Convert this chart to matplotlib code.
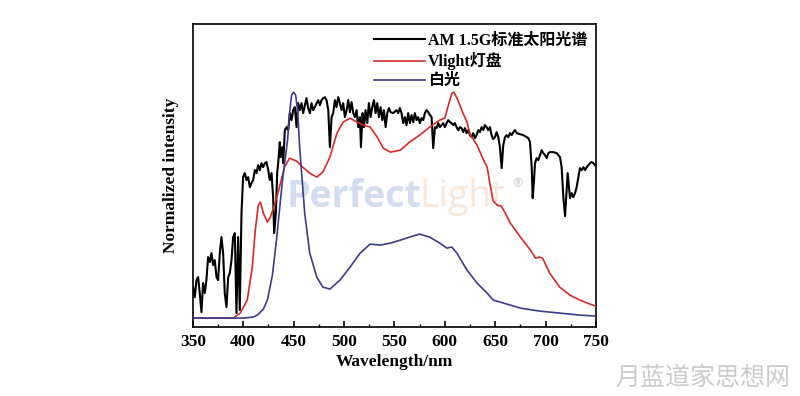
import matplotlib
matplotlib.use("Agg")
import matplotlib.pyplot as plt
from matplotlib.ticker import MultipleLocator

# ---- data (arbitrary units) ----
am_wl = [350.3, 352.0, 353.6, 355.3, 356.9, 358.6, 360.2, 361.9, 363.5, 365.2, 366.9, 368.5, 370.2, 371.8,
         373.5, 375.1, 376.8, 378.4, 380.1, 381.7, 383.4, 385.1, 386.7, 388.4, 390.0, 391.7, 393.3, 395.0,
         396.6, 398.3, 399.9, 401.6, 403.3, 404.9, 406.6, 408.2, 409.9, 411.5, 413.2, 414.8, 416.5, 418.1,
         419.8, 421.5, 423.1, 424.8, 426.4, 428.1, 429.7, 430.7, 432.4, 433.7, 434.7, 436.3, 437.0, 438.7,
         439.7, 441.3, 443.0, 444.6, 446.3, 447.9, 449.6, 451.2, 452.9, 454.5, 456.2, 457.9, 459.5, 461.2,
         462.8, 464.5, 466.2, 467.8, 469.5, 471.1, 472.8, 474.4, 476.1, 477.7, 479.4, 481.0, 482.7, 484.4,
         486.0, 487.7, 489.3, 491.0, 492.6, 494.3, 495.9, 497.6, 499.2, 500.9, 502.6, 504.2, 505.9, 507.5,
         509.2, 510.8, 512.5, 514.1, 515.8, 516.8, 518.4, 519.8, 521.4, 523.1, 524.7, 526.4, 528.0, 529.7,
         531.3, 533.0, 534.6, 536.3, 538.0, 539.6, 541.3, 542.9, 544.6, 546.2, 548.8, 552.1, 553.8, 555.4,
         557.1, 558.7, 560.4, 562.0, 563.7, 565.4, 567.0, 568.7, 570.3, 572.0, 573.6, 575.3, 576.9, 578.6,
         580.2, 581.9, 583.6, 585.2, 586.9, 588.5, 590.2, 591.8, 593.5, 595.1, 596.8, 598.4, 600.1, 601.8,
         603.4, 605.1, 606.7, 608.4, 610.0, 611.7, 613.3, 615.0, 616.6, 618.3, 620.0, 621.6, 623.3, 624.9,
         626.6, 628.2, 629.9, 631.5, 633.2, 634.8, 636.5, 638.2, 639.8, 641.5, 643.1, 644.8, 646.4, 648.1,
         649.8, 651.4, 653.1, 654.7, 656.4, 658.0, 659.7, 661.3, 663.0, 664.7, 666.3, 668.0, 669.6, 671.3,
         674.6, 677.9, 681.2, 682.9, 684.5, 686.2, 687.2, 688.5, 689.5, 691.1, 692.8, 694.4, 696.1, 697.7,
         699.4, 701.1, 702.7, 704.4, 707.7, 711.0, 714.3, 715.9, 717.6, 719.3, 720.9, 721.9, 723.2, 724.2,
         725.9, 727.5, 729.2, 730.8, 732.5, 734.1, 735.8, 737.5, 739.1, 740.8, 742.4, 744.1, 745.7, 747.4,
         749.0]
am_int = [40, 30, 47, 50, 34, 15, 44, 34, 47, 70, 65, 74, 62, 67,
          50, 47, 74, 90, 74, 34, 20, 50, 54, 67, 90, 94, 14, 90,
          17, 114, 150, 154, 147, 150, 140, 144, 147, 157, 154, 162, 157, 164,
          160, 164, 165, 157, 147, 154, 130, 94, 114, 154, 164, 185, 170, 180,
          164, 197, 200, 197, 214, 207, 217, 220, 200, 224, 217, 224, 214, 222,
          229, 219, 214, 224, 217, 220, 224, 227, 222, 227, 229, 230, 227, 217,
          180, 210, 214, 227, 220, 230, 224, 217, 224, 210, 217, 227, 215, 225,
          214, 210, 217, 200, 210, 180, 214, 200, 217, 204, 224, 210, 220, 227,
          214, 224, 210, 220, 207, 217, 200, 214, 219, 215, 214, 217, 214, 219,
          214, 204, 210, 202, 214, 204, 212, 205, 214, 207, 210, 204, 209, 207,
          214, 217, 215, 212, 210, 179, 200, 199, 204, 200, 202, 204, 200, 204,
          207, 205, 204, 202, 204, 200, 197, 200, 199, 195, 199, 194, 197, 192,
          190, 194, 189, 192, 197, 195, 200, 197, 202, 200, 197, 200, 192, 188,
          190, 195, 190, 180, 159, 182, 190, 192, 190, 194, 192, 195, 197, 194,
          193, 192, 190, 189, 185, 160, 129, 147, 164, 169, 167, 172, 177, 174,
          172, 169, 174, 175, 175, 174, 170, 160, 130, 111, 137, 154, 140, 129,
          134, 130, 134, 140, 150, 159, 157, 160, 157, 160, 162, 164, 165, 164,
          162]

vl_wl = [350, 380, 390, 397, 404, 409, 412, 415, 417, 420, 424, 427, 431, 436, 441, 446, 453, 459, 466,
         473, 479, 486, 493, 499, 506, 513, 519, 526, 533, 539, 546, 556, 565, 575, 585, 595, 600, 603,
         607, 609, 613, 618, 622, 625, 632, 638, 642, 645, 648, 652, 656, 660, 665, 675, 685, 690, 694,
         697, 704, 714, 724, 734, 744, 750]
vl_int = [9, 9, 9, 14, 27, 60, 97, 122, 125, 114, 105, 110, 122, 140, 160, 169, 166, 160, 154,
          150, 155, 170, 194, 205, 209, 205, 202, 200, 190, 179, 175, 177, 185, 192, 200, 207, 209, 220,
          234, 235, 227, 214, 205, 193, 182, 168, 160, 142, 126, 122, 121, 114, 104, 90, 77, 69, 70,
          69, 54, 40, 32, 27, 23, 21]

wl_wl = [350, 380, 400, 410, 414, 420, 424, 429, 433, 439, 444, 446, 448, 450, 452, 454, 456, 461, 466,
         473, 479, 486, 496, 506, 516, 526, 536, 546, 556, 565, 575, 585, 595, 602, 607, 612, 622, 632,
         642, 648, 655, 675, 694, 714, 734, 750]
wl_int = [9, 9, 9, 10, 12, 18, 27, 52, 87, 147, 187, 214, 232, 235, 232, 217, 180, 114, 74,
          50, 40, 38, 47, 60, 74, 83, 82, 84, 87, 90, 93, 90, 84, 79, 80, 74, 57, 44,
          34, 27, 25, 19, 16, 14, 12, 11]

labels = ["AM 1.5G标准太阳光谱", "Vlight灯盘", "白光"]
colors = ["#000000", "#d62a2a", "#3c3c8e"]
x_ticks = [350, 400, 450, 500, 550, 600, 650, 700, 750]

serif = ["Liberation Serif", "Noto Sans CJK SC"]
plt.rcParams["font.family"] = serif
plt.rcParams["font.weight"] = "bold"

fig = plt.figure(figsize=(8.0, 3.96), dpi=100)
ax = fig.add_axes([0.241, 0.174, 0.504, 0.765])

ax.plot(am_wl, am_int, color=colors[0], lw=1.5, label=labels[0], zorder=3)
ax.plot(vl_wl, vl_int, color=colors[1], lw=1.2, label=labels[1], zorder=3)
ax.plot(wl_wl, wl_int, color=colors[2], lw=1.2, label=labels[2], zorder=3)

ax.set_xlim(350, 750)
ax.set_ylim(0, 303)
ax.set_xticks(x_ticks)
ax.xaxis.set_minor_locator(MultipleLocator(25))
ax.set_yticks([])
ax.tick_params(axis="x", which="major", direction="in", length=4, width=1.2, labelsize=12.5, pad=5)
ax.tick_params(axis="x", which="minor", direction="in", length=2, width=1.0)
for lab in ax.get_xticklabels():
    lab.set_fontweight("bold")
for s in ax.spines.values():
    s.set_linewidth(1.2)

ax.set_xlabel("Wavelength/nm", fontsize=12.5, fontweight="bold", labelpad=3)
ax.set_ylabel("Normalized intensity", fontsize=12.5, fontweight="bold", labelpad=10)

leg = ax.legend(loc="upper right", frameon=False, handlelength=3.2,
                handletextpad=0.15, labelspacing=0.2, borderaxespad=0.15,
                prop={"family": serif, "weight": "bold", "size": 11.5})

# watermarks
ax.text(0.233, 0.396, "Perfect", transform=ax.transAxes, ha="left", va="baseline",
        fontsize=27, color="#d2def0", family="Open Sans", fontweight="bold", zorder=1)
ax.text(0.563, 0.396, "Light", transform=ax.transAxes, ha="left", va="baseline",
        fontsize=27, color="#fbe7d8", family="Open Sans", fontweight="normal", zorder=1)
ax.text(0.79, 0.475, "®", transform=ax.transAxes, ha="left", va="center",
        fontsize=9, color="#dadada", family="DejaVu Sans", zorder=1)
fig.text(0.988, 0.045, "月蓝道家思想网", ha="right", va="center", fontsize=18,
         color="#cccccc", family="Noto Sans CJK SC", fontweight="normal")

fig.savefig("out.png", dpi=100)
